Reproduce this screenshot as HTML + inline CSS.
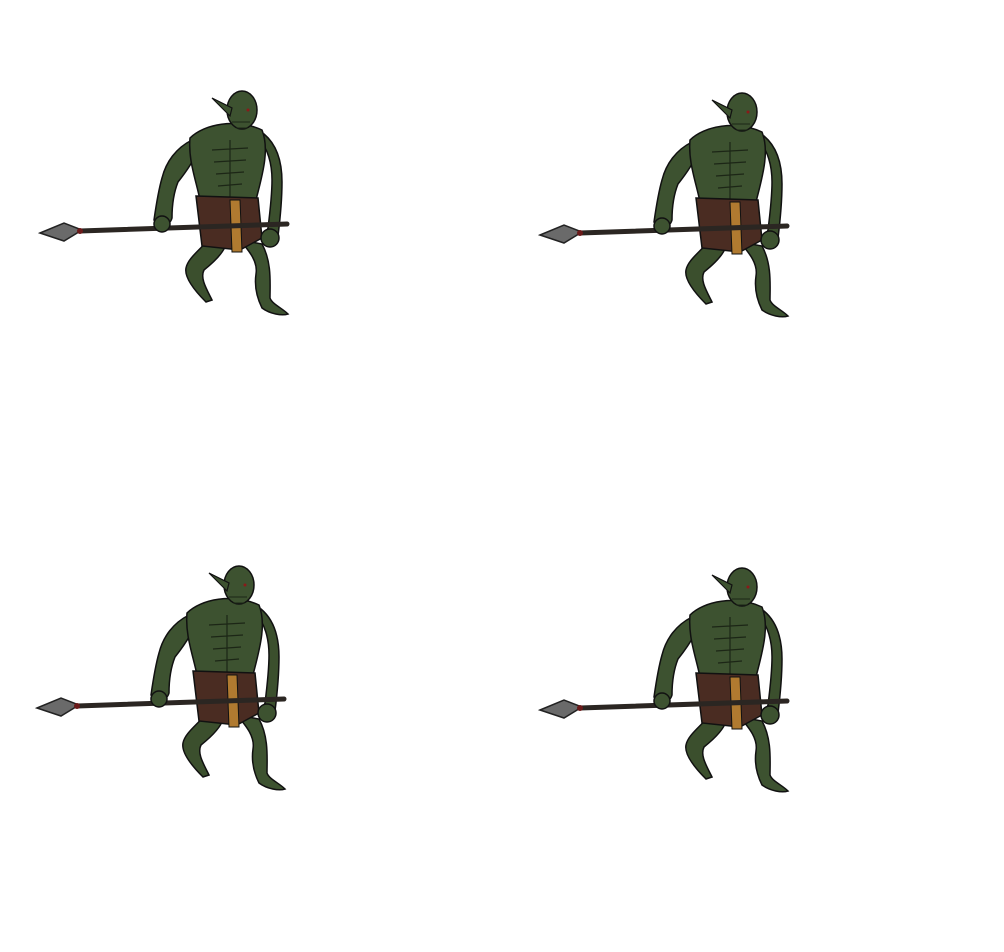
<!DOCTYPE html>
<html><head><meta charset="utf-8"><style>
html,body{margin:0;padding:0;background:#fff;}
svg{display:block}
</style></head><body>
<svg width="1004" height="952" viewBox="0 0 1004 952" xmlns="http://www.w3.org/2000/svg">
<defs>
<g id="orc">
  <!-- back leg -->
  <path d="M210,238 C200,250 188,258 186,268 C184,278 196,292 206,302 L212,300 C206,288 200,278 204,270 C214,262 224,252 226,244 Z" fill="#3b4f2d" stroke="#111" stroke-width="1.5"/>
  <!-- front leg -->
  <path d="M240,240 C250,252 258,262 256,274 C254,288 258,300 262,308 C270,314 282,316 288,314 C282,308 272,304 270,298 C270,284 272,262 262,244 Z" fill="#3d5230" stroke="#111" stroke-width="1.5"/>
  <!-- left arm -->
  <path d="M192,140 C176,148 166,162 162,178 C158,192 156,206 154,220 C160,228 170,226 172,218 C172,204 174,192 178,182 C186,172 194,160 198,150 Z" fill="#3d5230" stroke="#111" stroke-width="1.5"/>
  <!-- right arm -->
  <path d="M258,138 C268,148 272,164 272,180 C272,196 270,212 268,228 C262,240 276,248 278,236 C280,220 282,200 282,182 C282,160 276,144 264,134 Z" fill="#3b4f2d" stroke="#111" stroke-width="1.5"/>
  <!-- torso -->
  <path d="M190,138 C204,124 236,118 262,130 C270,150 262,176 256,200 C238,204 216,204 200,200 C196,180 188,160 190,138 Z" fill="#3d5230" stroke="#111" stroke-width="1.5"/>
  <path d="M212,150 L248,148 M214,162 L246,160 M216,174 L244,172 M218,186 L242,184 M230,140 L230,198" stroke="#1c2616" stroke-width="1.2" fill="none"/>
  <!-- head -->
  <ellipse cx="242" cy="110" rx="15" ry="19" fill="#3d5230" stroke="#111" stroke-width="1.5"/>
  <path d="M212,98 L232,108 L230,116 Z" fill="#3d5230" stroke="#111" stroke-width="1.2"/>
  <path d="M232,122 L250,122 M236,128 L248,128" stroke="#1c2616" stroke-width="1"/>
  <circle cx="248" cy="110" r="1.5" fill="#8a1a1a"/>
  <!-- loincloth -->
  <path d="M196,196 L258,198 L262,238 L240,250 L202,246 Z" fill="#4a2c22" stroke="#111" stroke-width="1.5"/>
  <path d="M230,200 L240,200 L242,252 L232,252 Z" fill="#b07a30" stroke="#111" stroke-width="1"/>
  <!-- spear -->
  <path d="M80,231 L287,224" stroke="#2b2622" stroke-width="5" stroke-linecap="round"/>
  <path d="M40,233 L64,223 L82,230 L64,241 Z" fill="#6a6a6a" stroke="#222" stroke-width="1.5"/>
  <circle cx="80" cy="231" r="3" fill="#6a1a1a"/>
  <!-- hands -->
  <circle cx="162" cy="224" r="8" fill="#3d5230" stroke="#111" stroke-width="1.5"/>
  <circle cx="270" cy="238" r="9" fill="#3d5230" stroke="#111" stroke-width="1.5"/>
</g>
</defs>
<use href="#orc" x="0" y="0"/>
<use href="#orc" x="500" y="2"/>
<use href="#orc" x="-3" y="475"/>
<use href="#orc" x="500" y="477"/>
</svg>
</body></html>
